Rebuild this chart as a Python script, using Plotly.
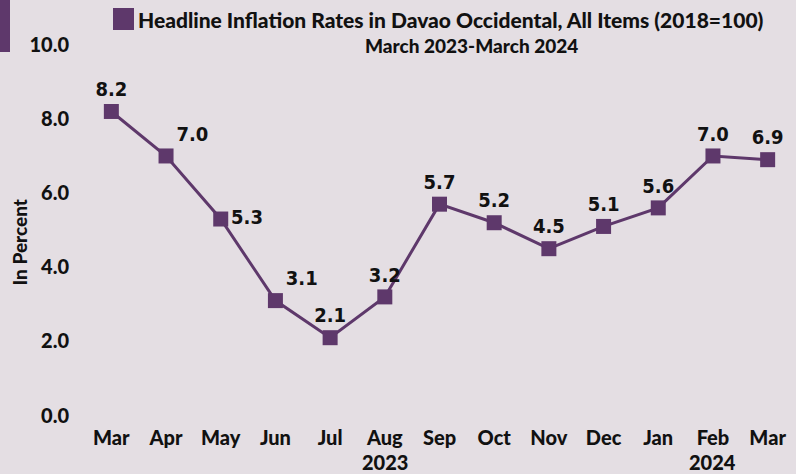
import plotly.graph_objects as go

months = ["Mar", "Apr", "May", "Jun", "Jul", "Aug", "Sep", "Oct", "Nov", "Dec", "Jan", "Feb", "Mar "]
tick_labels = ["Mar", "Apr", "May", "Jun", "Jul", "Aug", "Sep", "Oct", "Nov", "Dec", "Jan", "Feb", "Mar"]
inflation = [8.2, 7.0, 5.3, 3.1, 2.1, 3.2, 5.7, 5.2, 4.5, 5.1, 5.6, 7.0, 6.9]
label_pos = ["top center", "top right", "middle right", "top right", "top center", "top center",
             "top center", "top center", "top center", "top center", "top center", "top center", "top center"]
y_ticks = [0, 2, 4, 6, 8, 10]
year_labels = [("Aug", "2023"), ("Feb", "2024")]

PURPLE = "#5e386b"
BG = "#e4dee3"
W, H = 796, 474
GEO = "Lato, sans-serif"
NARROW = "DejaVu Sans Condensed, sans-serif"

fig = go.Figure()
fig.add_trace(go.Scatter(
    x=months, y=inflation, mode="lines+markers+text",
    line=dict(color=PURPLE, width=3),
    marker=dict(symbol="square", size=15, color=PURPLE),
    text=[f"{v:.1f}" for v in inflation],
    textposition=label_pos,
    textfont=dict(family=NARROW, size=20, color="#111111", weight="bold"),
    cliponaxis=False,
    showlegend=False,
))

ML, MR, MT, MB = 84, 1, 41, 51
plot_w = W - ML - MR
plot_h = H - MT - MB

def px_x(px):
    return (px - ML) / plot_w

def px_y(py):
    return 1 - (py - MT) / plot_h

for m, yr in year_labels:
    fig.add_annotation(x=months.index(m), xref="x", y=px_y(462), yref="paper", yanchor="middle",
                       text=yr, showarrow=False,
                       font=dict(family=GEO, size=20, color="#111111", weight=900))

# legend-like title
fig.add_shape(type="rect", xref="paper", yref="paper",
              x0=px_x(113), x1=px_x(134), y0=px_y(30), y1=px_y(8),
              fillcolor=PURPLE, line=dict(width=0))
fig.add_annotation(x=px_x(451), y=px_y(19), xref="paper", yref="paper",
                   xanchor="center", yanchor="middle",
                   text="Headline Inflation Rates in Davao Occidental, All Items (2018=100)",
                   showarrow=False, font=dict(family=GEO, size=21, color="#111111", weight=900))
fig.add_annotation(x=px_x(471), y=px_y(46), xref="paper", yref="paper",
                   xanchor="center", yanchor="middle",
                   text="March 2023-March 2024",
                   showarrow=False, font=dict(family=GEO, size=19, color="#111111", weight=900))
# y-axis title
fig.add_annotation(x=px_x(18.5), y=px_y(242), xref="paper", yref="paper",
                   xanchor="center", yanchor="middle", textangle=-90,
                   text="In Percent",
                   showarrow=False, font=dict(family=GEO, size=19, color="#111111", weight=900))
# left accent bar
fig.add_shape(type="rect", xref="paper", yref="paper",
              x0=px_x(0), x1=px_x(10), y0=px_y(52), y1=px_y(0),
              fillcolor=PURPLE, line=dict(width=0))

fig.update_layout(
    width=W, height=H,
    margin=dict(l=ML, r=MR, t=MT, b=MB),
    paper_bgcolor=BG, plot_bgcolor=BG,
    font=dict(family=GEO, color="#111111"),
    xaxis=dict(range=[-0.5, 12.5], tickvals=months, ticktext=tick_labels,
               showgrid=False, zeroline=False, showline=False, ticks="",
               tickfont=dict(size=20, family=GEO, weight=900), ticklabelstandoff=1),
    yaxis=dict(range=[-0.2, 10.1], tickvals=y_ticks, ticktext=[f"{v:.1f}" for v in y_ticks],
               showgrid=False, zeroline=False, showline=False, ticks="",
               tickfont=dict(size=20, family=GEO, weight=900), ticklabelstandoff=14),
)

fig.write_html("out.html", config={"displayModeBar": False},
               post_script="document.body.style.margin='0';")
